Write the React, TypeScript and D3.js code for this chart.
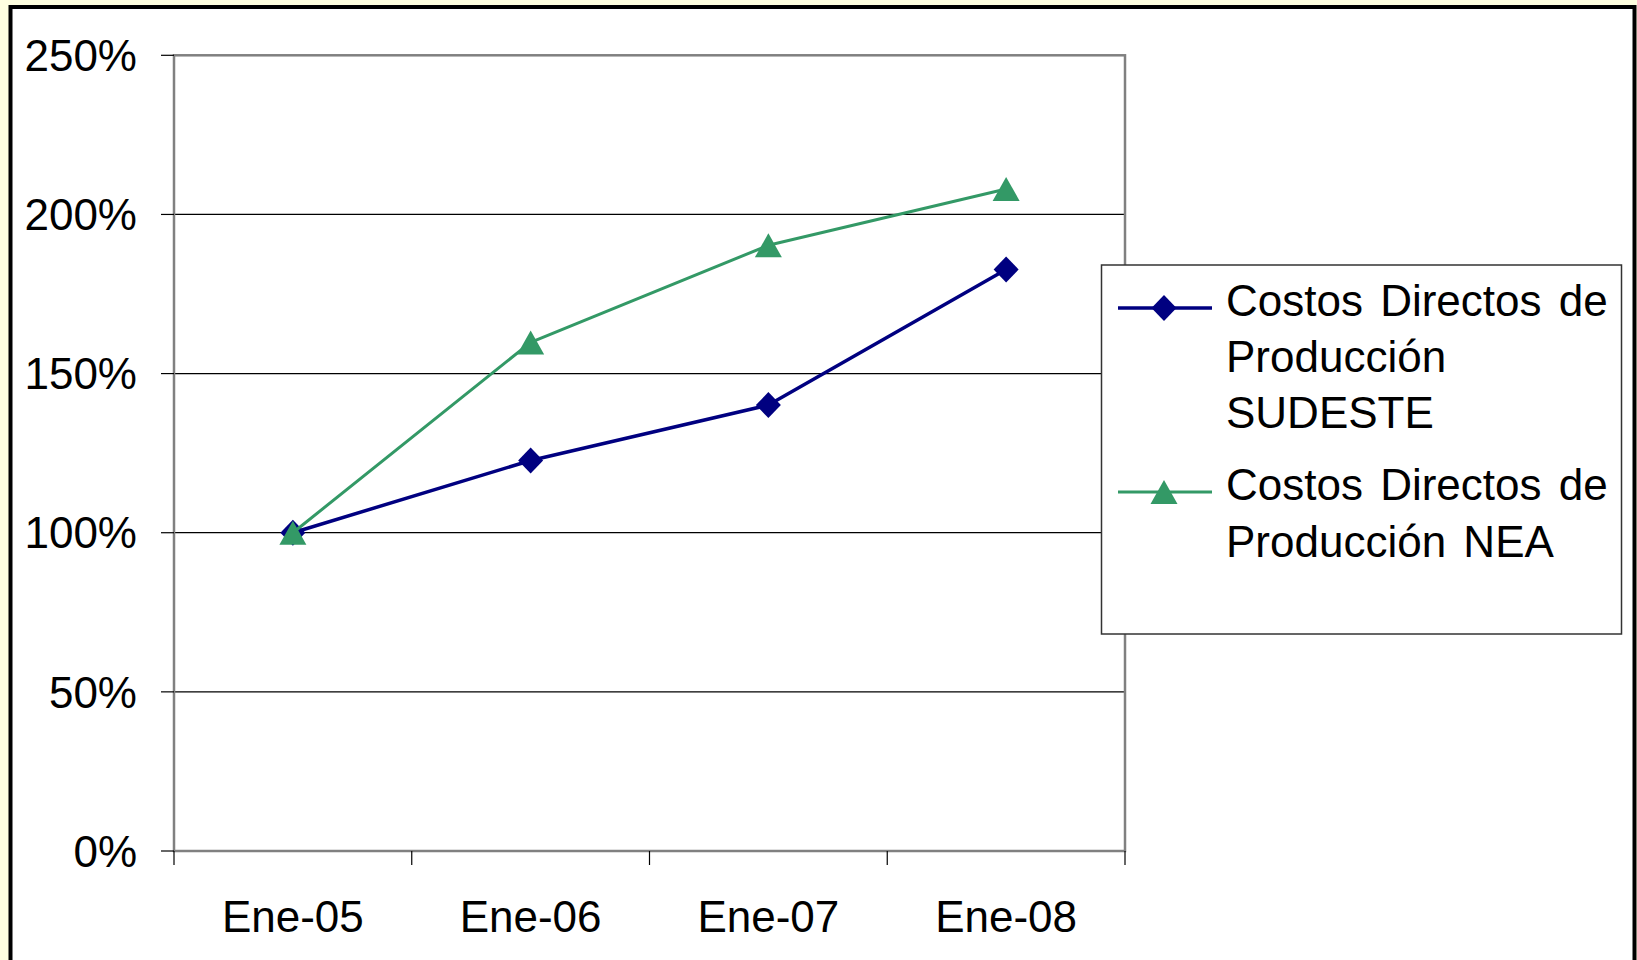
import React from "react";
import * as d3 from "d3";

const categories = ["Ene-05", "Ene-06", "Ene-07", "Ene-08"];
const sudeste = [1.0, 1.227, 1.401, 1.827];
const nea = [1.0, 1.598, 1.903, 2.08];
const yTicks = [0, 0.5, 1.0, 1.5, 2.0, 2.5];
const legendSudeste = ["Costos Directos de", "Producción", "SUDESTE"];
const legendNea = ["Costos Directos de", "Producción NEA"];

const W = 1637;
const H = 960;
const plot = { left: 174, right: 1125, top: 55.3, bottom: 851 };
const NAVY = "#000080";
const GREEN = "#339966";
const FONT = "'Liberation Sans', Arial, Helvetica, sans-serif";

function diamond(cx: number, cy: number, hw = 12.5, hh = 13) {
  return `M${cx},${cy - hh}L${cx + hw},${cy}L${cx},${cy + hh}L${cx - hw},${cy}Z`;
}
function triangle(cx: number, cy: number, hw = 13.5, hh = 12) {
  return `M${cx},${cy - hh}L${cx + hw},${cy + hh}L${cx - hw},${cy + hh}Z`;
}

export default function App() {
  const x = d3.scaleBand<string>().domain(categories).range([plot.left, plot.right]).padding(0);
  const y = d3.scaleLinear().domain([0, 2.5]).range([plot.bottom, plot.top]);
  const cx = (c: string) => (x(c) as number) + x.bandwidth() / 2;
  const line = d3
    .line<number>()
    .x((_, i) => cx(categories[i]))
    .y((d) => y(d));
  const bounds = [...categories.map((c) => x(c) as number), plot.right];
  const fmt = d3.format(".0%");

  return (
    <svg
      width={W}
      height={H}
      style={{ position: "absolute", left: 0, top: 0, display: "block" }}
      fontFamily={FONT}
    >
      <rect x={0} y={0} width={W} height={H} fill="#FFFFE0" />
      <rect x={10.5} y={7} width={1624} height={1000} fill="#FFFFFF" stroke="#000000" strokeWidth={4} />

      {/* gridlines */}
      {yTicks
        .filter((t) => t > 0 && t < 2.5)
        .map((t) => (
          <line key={"g" + t} x1={plot.left} x2={plot.right} y1={y(t)} y2={y(t)} stroke="#000000" strokeWidth={1.2} />
        ))}

      {/* plot border */}
      <rect
        x={plot.left}
        y={plot.top}
        width={plot.right - plot.left}
        height={plot.bottom - plot.top}
        fill="none"
        stroke="#808080"
        strokeWidth={2.5}
      />

      {/* y ticks and labels */}
      {yTicks.map((t) => (
        <g key={"y" + t}>
          <line x1={plot.left - 13} x2={plot.left} y1={y(t)} y2={y(t)} stroke="#000000" strokeWidth={1.2} />
          <text x={137} y={y(t)} dy="0.358em" textAnchor="end" fontSize={44} fill="#000000">
            {fmt(t)}
          </text>
        </g>
      ))}

      {/* x ticks */}
      {bounds.map((b, i) => (
        <line key={"xt" + i} x1={b} x2={b} y1={plot.bottom} y2={plot.bottom + 14} stroke="#000000" strokeWidth={1.2} />
      ))}
      {categories.map((c) => (
        <text key={"xl" + c} x={cx(c)} y={932} textAnchor="middle" fontSize={44} fill="#000000">
          {c}
        </text>
      ))}

      {/* series */}
      <path d={line(sudeste) || ""} fill="none" stroke={NAVY} strokeWidth={3.5} strokeLinejoin="round" />
      {sudeste.map((v, i) => (
        <path key={"d" + i} d={diamond(cx(categories[i]), y(v))} fill={NAVY} />
      ))}
      <path d={line(nea) || ""} fill="none" stroke={GREEN} strokeWidth={3} strokeLinejoin="round" />
      {nea.map((v, i) => (
        <path key={"t" + i} d={triangle(cx(categories[i]), y(v))} fill={GREEN} />
      ))}

      {/* legend */}
      <rect x={1101.5} y={265} width={520} height={369} fill="#FFFFFF" stroke="#333333" strokeWidth={1.5} />
      <line x1={1118} x2={1212} y1={308} y2={308} stroke={NAVY} strokeWidth={3.5} />
      <path d={diamond(1164, 308)} fill={NAVY} />
      <line x1={1118} x2={1212} y1={492} y2={492} stroke={GREEN} strokeWidth={3} />
      <path d={triangle(1164, 492)} fill={GREEN} />
      {legendSudeste.map((s, i) => (
        <text key={"ls" + i} x={1226} y={316 + i * 56} fontSize={44} fill="#000000" style={{ wordSpacing: "5px" }}>
          {s}
        </text>
      ))}
      {legendNea.map((s, i) => (
        <text key={"ln" + i} x={1226} y={500 + i * 56.5} fontSize={44} fill="#000000" style={{ wordSpacing: "5px" }}>
          {s}
        </text>
      ))}
    </svg>
  );
}
